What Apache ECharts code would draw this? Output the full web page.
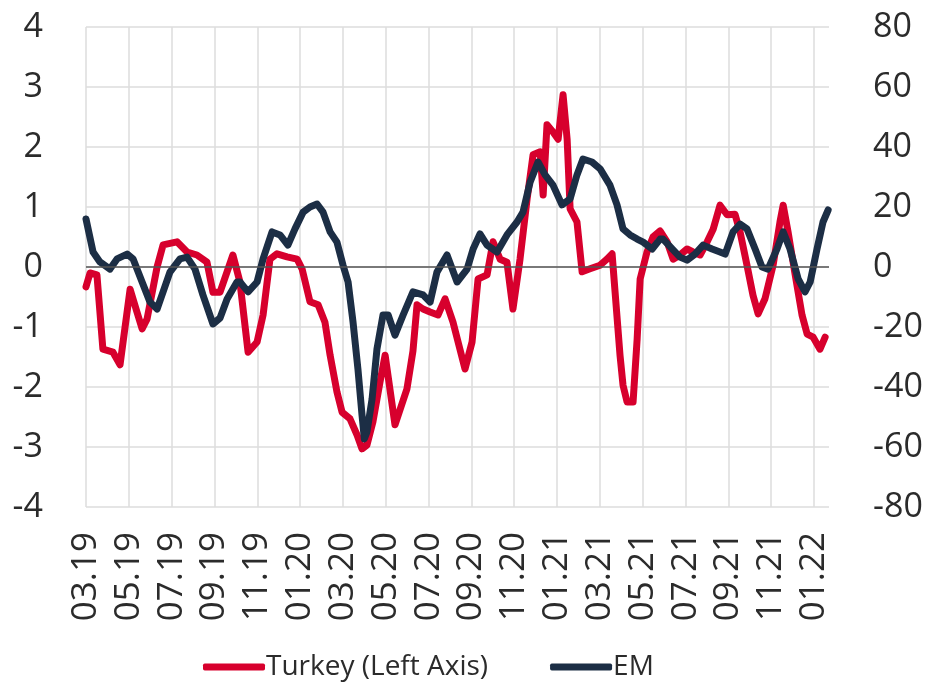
<!DOCTYPE html>
<html lang="en">
<head>
    <meta charset="UTF-8">
    <title>Turkey vs EM</title>
    <script src="https://cdn.jsdelivr.net/npm/echarts@6/dist/echarts.min.js"></script>
    <style>
        body { margin: 0; background: #fff; }
        #main { width: 933px; height: 684px; }
    </style>
</head>
<body>
<div id="main"></div>
<script type="text/javascript">
    // x values are months since 03.19
    var tickLabels = ['03.19', '05.19', '07.19', '09.19', '11.19', '01.20', '03.20', '05.20', '07.20',
        '09.20', '11.20', '01.21', '03.21', '05.21', '07.21', '09.21', '11.21', '01.22'];

    var turkeyX = [0, 0.19, 0.51, 0.79, 1.26, 1.59, 2.06, 2.38, 2.62, 2.85, 3.32, 3.6, 4.25, 4.72, 5.18, 5.65,
        5.93, 6.26, 6.86, 7.19, 7.57, 7.99, 8.27, 8.59, 8.92, 9.39, 9.86, 10.09, 10.46, 10.84, 11.16, 11.4,
        11.72, 11.96, 12.33, 12.66, 12.89, 13.12, 13.4, 13.73, 13.97, 14.43, 14.99, 15.27, 15.46, 15.74,
        16.07, 16.44, 16.77, 17.14, 17.7, 18.03, 18.31, 18.73, 19.01, 19.34, 19.66, 19.94, 20.27, 20.6,
        20.88, 21.21, 21.35, 21.53, 21.81, 22.05, 22.28, 22.47, 22.61, 22.93, 23.17, 23.54, 24.01, 24.33,
        24.57, 24.71, 24.94, 25.08, 25.27, 25.55, 25.74, 25.88, 26.2, 26.48, 26.81, 27.14, 27.42, 27.74,
        28.07, 28.35, 28.68, 29.01, 29.29, 29.61, 29.94, 30.31, 30.55, 30.87, 31.15, 31.39, 31.71, 32.09,
        32.41, 32.56, 32.79, 33.12, 33.44, 33.68, 33.96, 34.28, 34.52];
    var turkeyY = [-0.33, -0.1, -0.13, -1.37, -1.42, -1.63, -0.37, -0.75, -1.03, -0.87, 0, 0.37, 0.42, 0.25,
        0.2, 0.08, -0.42, -0.42, 0.2, -0.25, -1.42, -1.25, -0.8, 0.13, 0.22, 0.17, 0.13, -0.03, -0.58,
        -0.63, -0.92, -1.47, -2.08, -2.42, -2.53, -2.8, -3.03, -2.97, -2.58, -1.92, -1.47, -2.63, -2.03,
        -1.4, -0.63, -0.7, -0.75, -0.8, -0.53, -0.92, -1.7, -1.25, -0.2, -0.13, 0.42, 0.13, 0.08, -0.7,
        0.13, 1.13, 1.87, 1.92, 1.2, 2.37, 2.25, 2.13, 2.87, 2.13, 0.97, 0.75, -0.08, -0.03, 0.03, 0.13,
        0.22, -0.42, -1.47, -1.97, -2.25, -2.25, -1.2, -0.2, 0.25, 0.5, 0.6, 0.42, 0.13, 0.2, 0.3, 0.25,
        0.2, 0.42, 0.63, 1.03, 0.87, 0.88, 0.58, 0.03, -0.47, -0.78, -0.53, 0.03, 0.75, 1.03, 0.58, -0.13,
        -0.8, -1.12, -1.17, -1.37, -1.17];

    var emX = [0, 0.33, 0.65, 1.12, 1.45, 1.92, 2.2, 2.62, 2.99, 3.32, 3.6, 3.92, 4.39, 4.72, 5.09, 5.46,
        5.93, 6.26, 6.59, 7.05, 7.19, 7.57, 7.99, 8.27, 8.69, 9.06, 9.43, 9.76, 10.14, 10.46, 10.79, 11.07,
        11.4, 11.72, 12, 12.24, 12.47, 12.7, 12.89, 13, 13.12, 13.36, 13.59, 13.87, 14.11, 14.43, 14.81,
        15.27, 15.74, 16.07, 16.39, 16.86, 17.33, 17.8, 18.08, 18.4, 18.73, 19.2, 19.66, 20.13, 20.41,
        20.74, 21.11, 21.44, 21.81, 22.23, 22.61, 22.93, 23.21, 23.63, 24.01, 24.47, 24.8, 25.08, 25.41,
        25.74, 26.02, 26.44, 26.81, 26.95, 27.42, 27.74, 28.07, 28.44, 28.82, 29.24, 29.61, 29.85, 30.22,
        30.55, 30.87, 31.25, 31.57, 31.85, 32.27, 32.56, 32.88, 33.26, 33.58, 33.82, 34.14, 34.42, 34.66];
    var emY = [16, 5, 1.7, -0.7, 2.7, 4.3, 2.7, -5, -11.7, -14, -8.3, -1.7, 2.7, 3.3, -0.7, -9.3, -19, -17,
        -10.7, -5, -5, -8.3, -5, 2.7, 11.7, 10.7, 7.3, 12.7, 18.3, 20, 21, 18.3, 11.7, 8.3, 0.7, -5, -18.3,
        -34, -49.3, -57.3, -55, -44, -27.3, -16, -16, -22.7, -16, -8.3, -9.3, -11.7, -1.7, 4, -5, -0.7, 6,
        11, 7.3, 5, 10.7, 15, 18.3, 28.3, 35, 30.7, 27.3, 20.7, 22.7, 30.7, 36, 35, 32.7, 27.3, 20.7, 12.7,
        10.7, 9.3, 8.3, 6, 9.3, 9.3, 5.7, 3.3, 2.3, 4.3, 7.3, 6, 5, 4.3, 11.7, 14.3, 12.7, 6, 0, -0.7, 6,
        11.7, 6, -4, -8.3, -5, 6, 15, 19];

    function zip(xs, ys) {
        var out = [];
        for (var i = 0; i < xs.length; i++) {
            out.push([xs[i], ys[i]]);
        }
        return out;
    }

    var gridColors = [];
    for (var i = 0; i < tickLabels.length; i++) gridColors.push('#dcdcdc');
    gridColors.push('rgba(0,0,0,0)');

    var textColor = '#2b2b2b';
    var fontFamily = '"Open Sans", sans-serif';

    var myChart = echarts.init(document.getElementById('main'));

    var option = {
        backgroundColor: '#fff',
        animation: false,
        textStyle: { fontFamily: fontFamily },
        grid: { left: 86, right: 104, top: 27, bottom: 177 },
        legend: {
            left: 198,
            top: 648,
            itemWidth: 62,
            itemHeight: 7,
            itemGap: 62,
            icon: 'roundRect',
            textStyle: { fontSize: 28, color: textColor, fontFamily: fontFamily, padding: [0, 0, 0, -4] },
            data: ['Turkey (Left Axis)', 'EM']
        },
        xAxis: {
            type: 'value',
            min: 0,
            max: 34.7,
            interval: 2,
            axisLine: { show: false },
            axisTick: { show: false },
            splitLine: { show: true, lineStyle: { color: gridColors, width: 1.5 } },
            axisLabel: {
                rotate: 90,
                margin: 25,
                fontSize: 35,
                color: textColor,
                showMaxLabel: false,
                formatter: function (v) {
                    var idx = Math.round(v / 2);
                    if (Math.abs(v - idx * 2) > 0.01) return '';
                    return tickLabels[idx] || '';
                }
            }
        },
        yAxis: [{
            type: 'value',
            min: -4,
            max: 4,
            interval: 1,
            axisLine: { show: false },
            axisTick: { show: false },
            splitLine: { lineStyle: { color: '#dcdcdc', width: 1.5 } },
            axisLabel: { fontSize: 34, color: textColor, margin: 43 }
        }, {
            type: 'value',
            min: -80,
            max: 80,
            interval: 20,
            position: 'right',
            axisLine: { show: false },
            axisTick: { show: false },
            splitLine: { show: false },
            axisLabel: { fontSize: 34, color: textColor, margin: 44 }
        }],
        series: [{
            name: 'Turkey (Left Axis)',
            type: 'line',
            yAxisIndex: 0,
            data: zip(turkeyX, turkeyY),
            showSymbol: false,
            symbol: 'none',
            color: '#d7002d',
            lineStyle: { width: 7, color: '#d7002d', join: 'round', cap: 'round' },
            markLine: {
                silent: true,
                symbol: 'none',
                label: { show: false },
                lineStyle: { color: '#555', width: 1.5, type: 'solid' },
                data: [{ yAxis: 0 }]
            },
            z: 2
        }, {
            name: 'EM',
            type: 'line',
            yAxisIndex: 1,
            data: zip(emX, emY),
            showSymbol: false,
            symbol: 'none',
            color: '#1c2e45',
            lineStyle: { width: 7, color: '#1c2e45', join: 'round', cap: 'round' },
            z: 3
        }]
    };

    myChart.setOption(option);
</script>
</body>
</html>
